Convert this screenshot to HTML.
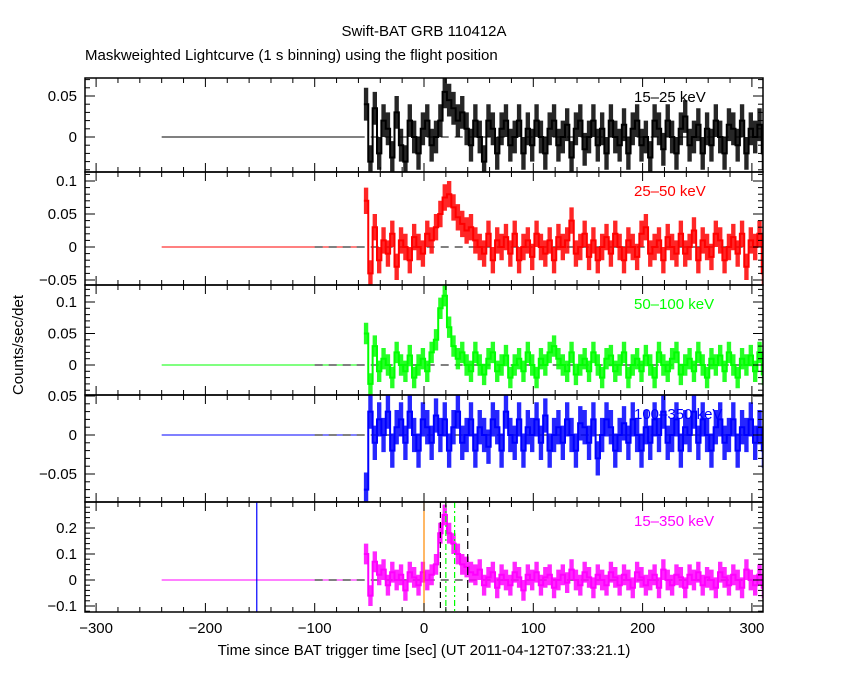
<!DOCTYPE html>
<html><head><meta charset="utf-8"><style>
body{margin:0;background:#fff}
svg text{font-family:"Liberation Sans",sans-serif}
</style></head><body>
<svg id="c" width="850" height="680" xmlns="http://www.w3.org/2000/svg">
<rect width="850" height="680" fill="#fff"/>
<text x="424" y="36" font-size="15" text-anchor="middle">Swift-BAT GRB 110412A</text>
<text x="85" y="60" font-size="15">Maskweighted Lightcurve (1 s binning) using the flight position</text>
<text transform="translate(23,345) rotate(-90)" font-size="15" text-anchor="middle">Counts/sec/det</text>
<text x="424" y="655" font-size="15" text-anchor="middle">Time since BAT trigger time [sec] (UT 2011-04-12T07:33:21.1)</text>
<g id="g"></g>
</svg>
<script>
// time bins (start -55 s, step 4 s)
const tStart = -55, tStep = 4;
const xTicks = [-300,-200,-100,0,100,200,300];
const p1 = [0.04,-0.03,0.035,-0.02,0.02,0.01,-0.025,0.03,-0.01,-0.03,0.02,0.0,-0.02,0.01,0.02,-0.01,0.0,0.02,0.055,0.045,0.035,0.02,0.03,0.01,-0.01,0.02,0.0,-0.03,0.02,0.01,-0.02,0.01,0.02,-0.01,0.0,0.02,-0.02,0.01,-0.01,0.02,0.0,-0.02,0.01,0.02,-0.01,0.0,0.015,-0.025,0.01,0.02,-0.015,0.0,0.02,-0.01,0.01,-0.02,0.02,0.0,-0.01,0.015,-0.02,0.01,0.02,-0.01,0.0,-0.025,0.02,0.01,-0.015,0.02,0.0,-0.02,0.01,0.025,-0.01,0.0,0.015,-0.02,0.01,-0.01,0.02,0.0,-0.02,0.015,0.01,-0.01,0.02,-0.02,0.01,0.0,0.015,-0.02];
const p2 = [0.07,-0.04,0.03,-0.02,0.01,-0.01,0.02,-0.03,0.01,0.0,-0.02,0.015,0.0,-0.01,0.02,0.01,0.03,0.05,0.075,0.08,0.06,0.045,0.035,0.025,0.03,0.01,0.0,-0.01,0.02,-0.02,0.01,0.0,0.015,-0.01,0.02,-0.02,0.0,0.01,-0.015,0.02,0.0,-0.01,0.01,-0.02,0.015,0.0,0.01,0.04,-0.01,0.0,0.02,-0.015,0.01,-0.02,0.0,0.015,-0.01,0.02,0.0,-0.02,0.01,0.0,-0.015,0.02,0.03,-0.01,0.0,0.01,-0.02,0.015,0.0,-0.01,0.02,-0.01,0.0,0.025,-0.02,0.01,0.0,-0.015,0.02,0.01,-0.02,0.0,0.015,-0.01,0.02,-0.03,0.01,0.0,0.02,-0.04];
const p3 = [0.05,-0.03,0.03,-0.01,0.01,0.0,-0.02,0.02,0.0,-0.01,0.015,-0.02,0.0,0.01,-0.01,0.02,0.04,0.09,0.11,0.06,0.03,0.01,0.02,0.0,-0.01,0.02,0.0,-0.015,0.01,0.02,-0.01,0.0,0.015,-0.02,0.0,0.01,-0.01,0.02,0.0,-0.02,0.01,0.0,0.02,0.03,0.01,0.0,-0.01,0.02,-0.015,0.0,0.01,-0.01,0.02,0.0,-0.02,0.01,0.015,-0.01,0.0,0.02,-0.02,0.0,0.01,-0.01,0.015,0.0,-0.02,0.02,0.0,-0.01,0.01,0.02,-0.015,0.0,0.01,-0.01,0.02,0.0,-0.02,0.01,0.0,0.015,-0.01,0.02,0.0,-0.02,0.01,0.0,0.015,-0.01,0.02,-0.015];
const p4 = [-0.07,0.03,-0.01,0.02,0.0,0.03,-0.02,0.01,0.02,-0.01,0.03,0.0,-0.02,0.02,0.01,-0.01,0.025,0.0,0.02,-0.02,0.01,0.03,-0.01,0.0,0.02,-0.02,0.01,0.0,-0.015,0.02,0.01,-0.02,0.03,0.0,-0.01,0.02,-0.02,0.01,0.0,0.02,-0.01,0.025,-0.02,0.0,0.01,-0.01,0.02,0.0,-0.02,0.015,0.01,-0.01,0.02,-0.03,0.0,0.02,0.01,-0.02,0.0,0.015,-0.01,0.02,0.0,-0.02,0.01,-0.01,0.02,0.0,0.03,-0.01,0.0,0.02,-0.02,0.01,0.0,0.03,-0.01,0.02,0.0,-0.02,0.01,0.02,-0.01,0.0,0.02,-0.02,0.01,0.0,0.02,-0.01,0.01,-0.02];
const p5 = [0.1,-0.06,0.07,0.02,0.04,-0.02,0.03,0.0,0.02,-0.04,0.03,0.01,-0.02,0.03,0.0,0.02,0.06,0.18,0.25,0.18,0.14,0.1,0.06,0.05,0.03,0.02,0.04,-0.02,0.01,0.03,-0.03,0.02,0.0,-0.02,0.03,0.01,-0.04,0.02,0.0,0.03,-0.02,0.01,0.02,-0.03,0.0,0.02,-0.01,0.04,0.0,-0.02,0.03,0.01,-0.03,0.02,0.0,-0.02,0.03,0.01,-0.02,0.02,0.0,-0.03,0.03,0.01,-0.02,0.0,0.02,-0.03,0.04,0.0,-0.02,0.02,0.01,-0.03,0.02,0.0,0.03,-0.02,0.01,0.0,-0.03,0.03,0.01,-0.02,0.02,0.0,-0.03,0.04,0.0,-0.02,0.02,-0.03];
// per-band 1-s scatter amplitude (counts/sec/det)
const noiseAmp = [0.02,0.02,0.017,0.022,0.04];
const series = [p1,p2,p3,p4,p5];
const colors = ['#000','#f00','#0f0','#00f','#f0f'];
const labels = ['15\u201325 keV','25\u201350 keV','50\u2013100 keV','100\u2013350 keV','15\u2013350 keV'];
const yTicks = [[0,0.05],[-0.05,0,0.05,0.1],[0,0.05,0.1],[-0.05,0,0.05],[-0.1,0,0.1,0.2]];
const yTickLabels = [['0','0.05'],['\u22120.05','0','0.05','0.1'],['0','0.05','0.1'],['\u22120.05','0','0.05'],['\u22120.1','0','0.1','0.2']];
const yMinor = [0.01,0.01,0.01,0.01,0.02];
const markers = [-153,0,15,20,28,40];

const L=85,R=763;
const tops=[78,172,285,395,502], bots=[172,285,395,502,612];
const zeros=[137,247,365,435,580], scl=[820,660,630,780,260];
const X=t=>424+t*1.093;
const NS='http://www.w3.org/2000/svg';
const g=document.getElementById('g');
function el(tag,a,p){const e=document.createElementNS(NS,tag);for(const k in a)e.setAttribute(k,a[k]);(p||g).appendChild(e);return e;}

for(let k=0;k<5;k++){
  const Y=v=>zeros[k]-v*scl[k];
  const pg=el('g',{});
  
  
  const cp=el('clipPath',{id:'cp'+k},pg);
  el('rect',{x:L,y:tops[k],width:R-L,height:bots[k]-tops[k]},cp);
  const inner=el('g',{'clip-path':'url(#cp'+k+')'},pg);
  const fl=el('line',{x1:X(-240),x2:X(-55),y1:Y(0),y2:Y(0),stroke:colors[k],'stroke-width':1},inner);
  
  
  const dl=el('line',{x1:X(-100),x2:R,y1:Y(0),y2:Y(0),stroke:'#000','stroke-dasharray':'8,6'},inner);
  
  
  const d=series[k], a=noiseAmp[k];
  let up=[],dn=[];
  for(let i=0;i<d.length;i++){
    const t=tStart+i*tStep;
    up.push(X(t)+','+Y(d[i]+a));up.push(X(t+tStep)+','+Y(d[i]+a));
    dn.unshift(X(t)+','+Y(d[i]-a));dn.unshift(X(t+tStep)+','+Y(d[i]-a));
  }
  const band=el('polygon',{points:up.concat(dn).join(' '),fill:colors[k],'fill-opacity':0.85,stroke:'none'},inner);
  
  
  let pts=[];
  for(let i=0;i<d.length;i++){
    const t=tStart+i*tStep;
    pts.push(X(t)+','+Y(d[i]));pts.push(X(t+tStep)+','+Y(d[i]));
  }
  const pl=el('polyline',{points:pts.join(' '),fill:'none',stroke:colors[k],'stroke-width':2},inner);
  
  
  if(k===4){
    const mc=['#00f','#f80','#000','#0f0','#0f0','#000'];
    const md=['','','6,4','6,3,2,3','6,3,2,3','8,5'];
    markers.forEach((m,i)=>{
      const ml=el('line',{x1:X(m),x2:X(m),y1:tops[k],y2:bots[k],stroke:mc[i],'stroke-width':1.2,'stroke-dasharray':md[i]},inner);
      
      
    });
  }
  el('rect',{x:L,y:tops[k],width:R-L,height:bots[k]-tops[k],fill:'none',stroke:'#000','stroke-width':1.5},pg);
  for(let t=-300;t<=300;t+=20){
    const big=t%100===0, len=big?9:5;
    el('line',{x1:X(t),x2:X(t),y1:bots[k],y2:bots[k]-len,stroke:'#000'},pg);
    el('line',{x1:X(t),x2:X(t),y1:tops[k],y2:tops[k]+len,stroke:'#000'},pg);
  }
  const lo=(zeros[k]-bots[k])/scl[k], hi=(zeros[k]-tops[k])/scl[k];
  for(let v=Math.ceil(lo/yMinor[k])*yMinor[k];v<=hi;v+=yMinor[k]){
    el('line',{x1:L,x2:L+5,y1:Y(v),y2:Y(v),stroke:'#000'},pg);
    el('line',{x1:R,x2:R-5,y1:Y(v),y2:Y(v),stroke:'#000'},pg);
  }
  yTicks[k].forEach((v,i)=>{
    el('line',{x1:L,x2:L+10,y1:Y(v),y2:Y(v),stroke:'#000'},pg);
    el('line',{x1:R,x2:R-10,y1:Y(v),y2:Y(v),stroke:'#000'},pg);
    const tx=el('text',{x:L-8,y:Y(v)+5,'font-size':15,'text-anchor':'end'},pg);
    tx.textContent=yTickLabels[k][i];
    
    
  });
  const lb=el('text',{x:634,y:tops[k]+24,'font-size':15,fill:colors[k]},pg);
  lb.textContent=labels[k];
  
  
}
xTicks.forEach(t=>{
  const tx=el('text',{x:X(t),y:633,'font-size':15,'text-anchor':'middle'});
  tx.textContent=t<0?'\u2212'+(-t):String(t);
  
  
});
</script>
</body></html>
